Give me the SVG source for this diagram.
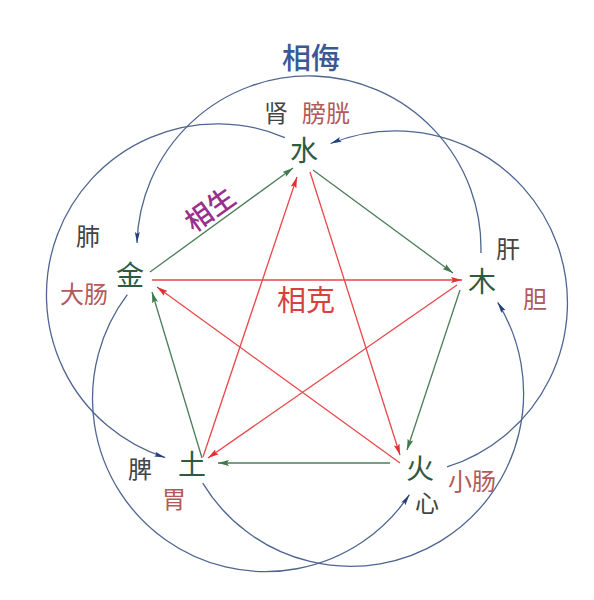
<svg xmlns="http://www.w3.org/2000/svg" width="594" height="600" viewBox="0 0 594 600">
<style>
text{font-family:"Noto Sans CJK SC","Noto Sans CJK TC",sans-serif;text-anchor:middle;dominant-baseline:central}
.el{fill:#2e5a3f;font-size:28px}
.yin{fill:#444;font-size:24px}
.yang{fill:#b25a5a;font-size:24px}
.sheng{stroke:#4b7d57;stroke-width:1.3;fill:none;marker-end:url(#ag)}
.ke{stroke:#e8474a;stroke-width:1.3;fill:none;marker-end:url(#ar)}
.wu{stroke:#4f6590;stroke-width:1.3;fill:none;marker-end:url(#ab)}
</style>
<defs>
<marker id="ag" markerUnits="userSpaceOnUse" markerWidth="12" markerHeight="8" refX="11" refY="4" orient="auto"><path d="M0,1 L11,4 L0,7 L2,4 Z" fill="#3f7a4c"/></marker>
<marker id="ar" markerUnits="userSpaceOnUse" markerWidth="12" markerHeight="8" refX="11" refY="4" orient="auto"><path d="M0,1 L11,4 L0,7 L2,4 Z" fill="#e0302f"/></marker>
<marker id="ab" markerUnits="userSpaceOnUse" markerWidth="12" markerHeight="8" refX="11" refY="4" orient="auto"><path d="M0,1.5 L11,4 L0,6.5 L2,4 Z" fill="#22407c"/></marker>
</defs>
<rect width="594" height="600" fill="#fff"/>
<g id="connectors">
<g id="sheng">
<line class="sheng" x1="150" y1="272" x2="293" y2="168"/>
<line class="sheng" x1="313" y1="170" x2="453" y2="273"/>
<line class="sheng" x1="460" y1="290" x2="407" y2="450"/>
<line class="sheng" x1="390" y1="463" x2="218" y2="463"/>
<line class="sheng" x1="202" y1="458" x2="152" y2="292"/>
</g>
<g id="ke">
<line class="ke" x1="310" y1="172" x2="400" y2="455"/>
<line class="ke" x1="400" y1="463" x2="157" y2="287"/>
<line class="ke" x1="152" y1="280" x2="462" y2="280"/>
<line class="ke" x1="457" y1="285" x2="208" y2="458"/>
<line class="ke" x1="203" y1="457" x2="297" y2="177"/>
</g>
<g id="wu">
<path class="wu" d="M480.9,252.9 A172,172 0 1 0 137,243"/>
<path class="wu" d="M447,466.9 A172,172 0 1 0 330.6,143.5"/>
<path class="wu" d="M202.7,483.1 A173,173 0 1 0 497.7,302.3"/>
<path class="wu" d="M127.3,294.6 A173,173 0 1 0 409.4,494.7"/>
<path class="wu" d="M284.8,137.6 A171,171 0 1 0 165.2,457.6"/>
</g>
</g>
<g id="node-water">
<text class="el" x="304" y="149">水</text>
<text class="yin" x="276" y="111">肾</text>
<text class="yang" x="326" y="111">膀胱</text>
</g>
<g id="node-wood">
<text class="el" x="482" y="280">木</text>
<text class="yin" x="508" y="247">肝</text>
<text class="yang" x="535" y="297">胆</text>
</g>
<g id="node-fire">
<text class="el" x="420" y="467">火</text>
<text class="yin" x="427" y="501">心</text>
<text class="yang" x="472" y="479">小肠</text>
</g>
<g id="node-earth">
<text class="el" x="192" y="463">土</text>
<text class="yin" x="140" y="467">脾</text>
<text class="yang" x="174" y="497">胃</text>
</g>
<g id="node-metal">
<text class="el" x="130" y="274">金</text>
<text class="yin" x="88" y="234">肺</text>
<text class="yang" x="84" y="292">大肠</text>
</g>
<g id="labels">
<text x="311" y="56" fill="#3b5896" font-size="29" font-weight="500">相侮</text>
<text x="306" y="298" fill="#d93f3f" font-size="29">相克</text>
<text transform="translate(209,208) rotate(-35.7)" x="0" y="0" fill="#9a2f8c" font-size="27" font-weight="500">相生</text>
</g>
</svg>
